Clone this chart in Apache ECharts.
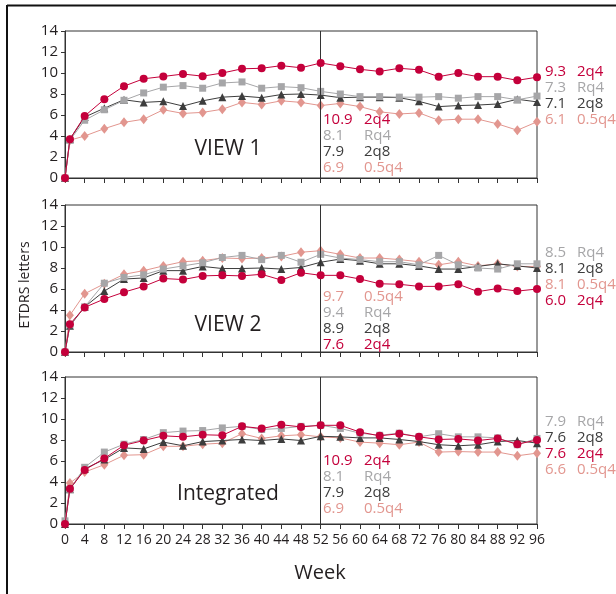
<!DOCTYPE html>
<html><head><meta charset="utf-8">
<script src="https://cdn.jsdelivr.net/npm/echarts@6/dist/echarts.min.js"></script>
<style>html,body{margin:0;padding:0;background:#fff}#c{width:616px;height:594px}</style>
</head><body><div id="c"></div><script>
// Weeks (x axis)
const weeks = [0,1,4,8,12,16,20,24,28,32,36,40,44,48,52,56,60,64,68,72,76,80,84,88,92,96];
const xTicks = [0,4,8,12,16,20,24,28,32,36,40,44,48,52,56,60,64,68,72,76,80,84,88,92,96];
const yTicks = [0,2,4,6,8,10,12,14];
const seriesNames = ['2q4','Rq4','2q8','0.5q4'];
const panelTitles = ['VIEW 1','VIEW 2','Integrated'];

// VIEW 1
const v1_2q4  = [0,3.7,5.9,7.5,8.75,9.45,9.67,9.9,9.7,10.0,10.4,10.45,10.7,10.5,10.95,10.65,10.35,10.15,10.45,10.3,9.65,10.0,9.65,9.65,9.3,9.6];
const v1_Rq4  = [0,3.6,5.5,6.5,7.4,8.1,8.65,8.8,8.55,9.05,9.15,8.55,8.7,8.6,8.25,8.0,7.75,7.75,7.7,7.7,7.75,7.6,7.75,7.75,7.45,7.8];
const v1_2q8  = [0,3.7,5.8,6.65,7.45,7.2,7.3,6.85,7.35,7.7,7.8,7.65,7.95,8.0,7.9,7.65,7.7,7.7,7.65,7.3,6.8,6.9,6.95,7.05,7.5,7.25];
const v1_05q4 = [0,3.6,4.0,4.7,5.3,5.6,6.5,6.15,6.25,6.55,7.2,7.0,7.35,7.2,6.9,7.1,6.8,6.3,6.1,6.2,5.5,5.6,5.6,5.15,4.55,5.35];
// VIEW 2
const v2_2q4  = [0,2.65,4.25,5.05,5.7,6.25,7.0,6.9,7.25,7.3,7.25,7.4,6.85,7.55,7.3,7.3,6.95,6.5,6.45,6.25,6.25,6.45,5.75,6.05,5.8,6.0];
const v2_Rq4  = [0,2.6,4.3,6.55,7.1,7.35,7.9,8.2,8.5,9.0,9.2,8.8,9.2,8.55,9.3,8.95,8.8,8.6,8.6,8.3,9.2,8.3,8.0,7.9,8.4,8.4];
const v2_2q8  = [0,2.5,4.3,5.8,6.95,7.05,7.75,7.75,8.15,7.95,7.95,8.0,7.9,8.05,8.55,8.85,8.7,8.4,8.4,8.2,7.9,7.9,8.15,8.4,8.2,8.0];
const v2_05q4 = [0,3.5,5.55,6.5,7.4,7.75,8.2,8.6,8.7,8.95,8.9,8.95,9.1,9.5,9.65,9.3,8.95,8.95,8.8,8.6,8.3,8.6,8.2,8.4,8.15,8.15];
// Integrated
const v3_2q4  = [0,3.35,5.15,6.25,7.5,7.95,8.4,8.3,8.5,8.45,9.3,9.1,9.45,9.25,9.4,9.4,8.75,8.4,8.6,8.3,8.05,8.1,7.95,8.15,7.6,8.0];
const v3_Rq4  = [0.3,3.3,5.4,6.85,7.6,8.05,8.7,8.85,8.9,9.15,9.3,9.0,9.1,9.3,9.4,9.1,8.65,8.45,8.65,8.3,8.6,8.3,8.3,8.2,7.55,8.15];
const v3_2q8  = [0,3.3,5.25,6.15,7.25,7.15,7.8,7.45,7.85,7.95,8.05,7.95,8.1,7.95,8.35,8.3,8.2,8.2,8.05,7.85,7.55,7.45,7.55,7.85,7.95,7.7];
const v3_05q4 = [0,3.9,4.95,5.65,6.55,6.6,7.4,7.4,7.6,7.7,8.6,8.15,8.4,8.5,8.3,8.2,7.8,7.7,7.55,7.8,6.85,6.9,6.85,6.85,6.5,6.75];

// Annotation labels: [value, name]
const mid1 = [['10.9','2q4'],['8.1','Rq4'],['7.9','2q8'],['6.9','0.5q4']];
const end1 = [['9.3','2q4'],['7.3','Rq4'],['7.1','2q8'],['6.1','0.5q4']];
const mid2 = [['9.7','0.5q4'],['9.4','Rq4'],['8.9','2q8'],['7.6','2q4']];
const end2 = [['8.5','Rq4'],['8.1','2q8'],['8.1','0.5q4'],['6.0','2q4']];
const mid3 = [['10.9','2q4'],['8.1','Rq4'],['7.9','2q8'],['6.9','0.5q4']];
const end3 = [['7.9','Rq4'],['7.6','2q8'],['7.6','2q4'],['6.6','0.5q4']];

const FONT = '"Open Sans", "Noto Sans", sans-serif';
const TXT = '#231f20';
const colors = {'2q4':'#c4003b','Rq4':'#a6a6a8','2q8':'#3d3d3d','0.5q4':'#e2968f'};
const symbols = {'2q4':['circle',8],'Rq4':['rect',7],'2q8':['triangle',8],'0.5q4':['diamond',[8,10]]};

const panels = [
  {top:31, data:{'2q4':v1_2q4,'Rq4':v1_Rq4,'2q8':v1_2q8,'0.5q4':v1_05q4}, mid:mid1, end:end1, midY:120, endY:72},
  {top:205, data:{'2q4':v2_2q4,'Rq4':v2_Rq4,'2q8':v2_2q8,'0.5q4':v2_05q4}, mid:mid2, end:end2, midY:297, endY:253},
  {top:377, data:{'2q4':v3_2q4,'Rq4':v3_Rq4,'2q8':v3_2q8,'0.5q4':v3_05q4}, mid:mid3, end:end3, midY:461, endY:422}
];

const grid=[], xAxis=[], yAxis=[], series=[];
panels.forEach((p,i)=>{
  grid.push({left:65, width:472, top:p.top, height:147, show:true, borderColor:'#333', borderWidth:1, backgroundColor:'rgba(0,0,0,0)'});
  xAxis.push({type:'value', gridIndex:i, min:0, max:96, interval:4,
    axisLine:{lineStyle:{color:'#333',width:1}},
    axisTick:{show:true,length:5,lineStyle:{color:'#333'}},
    axisLabel:{show:i===2, margin:9, fontSize:14, color:TXT, fontFamily:FONT,
      formatter:v=>xTicks.includes(v)?String(v):''},
    splitLine:{show:false}});
  yAxis.push({type:'value', gridIndex:i, min:0, max:14, interval:2,
    axisLine:{show:true,lineStyle:{color:'#333',width:1}},
    axisTick:{show:true,length:4,lineStyle:{color:'#333'}},
    axisLabel:{margin:7, fontSize:15, color:TXT, fontFamily:FONT,
      formatter:v=>yTicks.includes(v)?String(v):''},
    splitLine:{show:false}});
  ['0.5q4','2q8','Rq4','2q4'].forEach((n,k)=>{
    const s={type:'line', name:n+'_'+i, xAxisIndex:i, yAxisIndex:i,
      data:weeks.map((w,j)=>[w,p.data[n][j]]),
      symbol:symbols[n][0], symbolSize:symbols[n][1], showSymbol:true,
      lineStyle:{color:colors[n],width:1}, itemStyle:{color:colors[n]},
      animation:false, z:2+k};
    if(k===0){
      s.markLine={silent:true, symbol:'none', label:{show:false},
        lineStyle:{color:'#333',width:1,type:'solid'}, data:[{xAxis:52}]};
    }
    series.push(s);
  });
});

const graphic=[];
// frame lines
graphic.push({type:'line', shape:{x1:7,y1:5.5,x2:616,y2:5.5}, style:{stroke:'#111',lineWidth:2}});
graphic.push({type:'line', shape:{x1:7,y1:5,x2:7,y2:594}, style:{stroke:'#111',lineWidth:2}});
function addBlock(rows, x1, x2, y0){
  rows.forEach((r,k)=>{
    const c=colors[r[1]];
    const y=y0+k*15.8;
    graphic.push({type:'text', x:x1, y:y, style:{text:r[0], fill:c, font:'15px '+FONT, textVerticalAlign:'middle', textAlign:'left'}});
    graphic.push({type:'text', x:x2, y:y, style:{text:r[1], fill:c, font:'15px '+FONT, textVerticalAlign:'middle', textAlign:'left'}});
  });
}
panels.forEach((p,i)=>{
  addBlock(p.mid, 323, 364, p.midY);
  addBlock(p.end, 545, 577, p.endY);
});
const titleY=[149,325,494];
panelTitles.forEach((t,i)=>{
  graphic.push({type:'text', x:228, y:titleY[i], style:{text:t, fill:TXT, font:'21px '+FONT, textAlign:'center', textVerticalAlign:'middle'}});
});
graphic.push({type:'text', x:320, y:573, style:{text:'Week', fill:TXT, font:'20px '+FONT, textAlign:'center', textVerticalAlign:'middle'}});
graphic.push({type:'text', x:25, y:285, rotation:Math.PI/2, style:{text:'ETDRS letters', fill:TXT, font:'14px '+FONT, textAlign:'center', textVerticalAlign:'middle'}});

const chart=echarts.init(document.getElementById('c'));
chart.setOption({animation:false, backgroundColor:'#fff', grid, xAxis, yAxis, series, graphic});
</script></body></html>
